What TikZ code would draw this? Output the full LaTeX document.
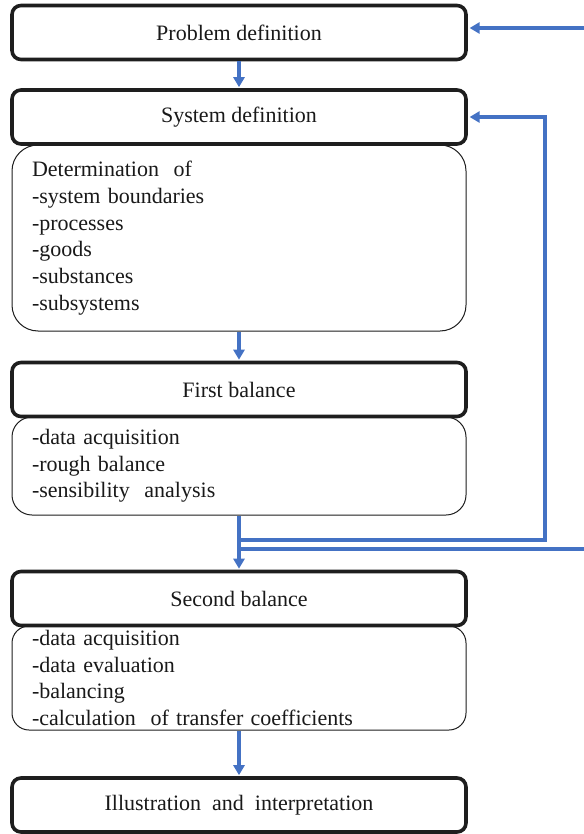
\documentclass[tikz,border=0pt]{standalone}
\usepackage{fontspec}
\setmainfont{Liberation Serif}
\usetikzlibrary{arrows.meta}
\definecolor{flowblue}{RGB}{68,114,196}
\definecolor{edge}{RGB}{30,30,30}
\begin{document}
\begin{tikzpicture}[x=1pt,y=-1pt,
  every node/.style={font=\fontsize{22}{26.7}\selectfont, text=black!90},
  header/.style={draw=edge, line width=3.6pt, fill=white, rounded corners=9pt,
    minimum width=454pt, minimum height=54pt, inner sep=0pt},
  subbox/.style={draw=edge, line width=1pt, fill=white, align=left,
    text width=414pt, inner xsep=20pt, inner ysep=0pt, minimum width=454pt},
  flow/.style={draw=flowblue, line width=3.4pt, -{Triangle[width=11pt,length=10pt]}},
  plain/.style={draw=flowblue, line width=3.4pt}]
\useasboundingbox (0,0) rectangle (583,834);

\node[subbox, rounded corners=26pt, minimum height=186pt] (sub1) at (239,238)
  {Determination\ \ of\\-system boundaries\\-processes\\-goods\\-substances\\-subsystems};
\node[subbox, rounded corners=20pt, minimum height=98pt] (sub2) at (239,466)
  {-data acquisition\\-rough balance\\-sensibility\ \ analysis};
\node[subbox, rounded corners=17pt, minimum height=104pt] (sub3) at (239,678)
  {-data acquisition\\-data evaluation\\-balancing\\-calculation\ \ of transfer coefficients};

\node[header] (prob) at (239,32.5) {Problem definition};
\node[header] (sys) at (239,117) {System definition};
\node[header] (fb) at (239,389.5) {First balance};
\node[header] (sb) at (239,598.5) {Second balance};
\node[header] (ill) at (239,805) {Illustration\ \ and\ \ interpretation};

\coordinate (j1) at (239,540);
\coordinate (j2) at (239,549);
\coordinate (r1) at (545,540);
\coordinate (e2) at (584,549);
\coordinate (e1) at (584,28);

\draw[flow, shorten >=1pt] (prob.south) -- (sys.north);
\draw[flow, shorten >=1pt] (sub1.south) -- (fb.north);
\draw[flow, shorten >=1pt] (sub2.south) -- (sb.north);
\draw[flow, shorten >=1pt] (sub3.south) -- (ill.north);
\draw[flow, shorten >=1.8pt] (j1) -- (r1) |- (sys.east);
\draw[plain] (j2) -- (e2);
\draw[flow, shorten >=1.8pt] (e1) -- (e1 -| prob.east);
\end{tikzpicture}
\end{document}
